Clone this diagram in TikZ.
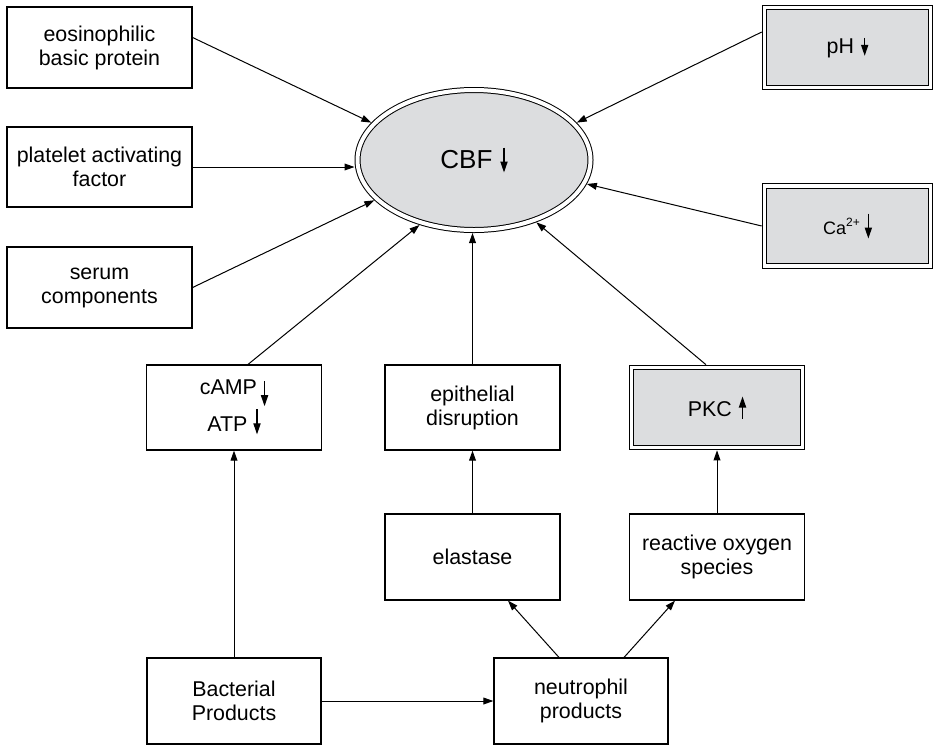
\documentclass[tikz,border=0pt]{standalone}
\usepackage{fontspec}
\setmainfont{Liberation Sans}
\usetikzlibrary{arrows.meta,shapes}

\definecolor{cellgray}{RGB}{220,221,223}

% small arrows that stand after the labels
\newsavebox{\dnbox}
\newsavebox{\dnlongbox}
\newsavebox{\upbox}
\sbox{\dnbox}{\tikz\draw[line width=0.6pt,-{Triangle[length=5.5pt,width=3.6pt]}] (0,9pt) -- (0,0);}
\sbox{\dnlongbox}{\tikz\draw[line width=0.6pt,-{Triangle[length=5.5pt,width=3.6pt]}] (0,12.5pt) -- (0,0);}
\sbox{\upbox}{\tikz\draw[line width=0.6pt,-{Triangle[length=5.5pt,width=3.6pt]}] (0,0) -- (0,11pt);}

\begin{document}
\begin{tikzpicture}[x=0.5pt,y=-0.5pt,
    box/.style={draw, line width=0.6pt, align=center, inner sep=1pt,
      minimum width=87.5pt, minimum height=42.5pt,
      font=\fontsize{10.7}{12}\selectfont},
    dbox/.style={box, fill=cellgray, line width=0.5pt, double=white,
      double distance=1.8pt, outer sep=1.4pt},
    link/.style={line width=0.5pt, -{Triangle[length=5pt,width=3.4pt]}}]
    \useasboundingbox (0,0) rectangle (935,745);
    % left column
    \node[box, minimum width=92.5pt, minimum height=40.5pt] (eos) at (99.5,47.5) {eosinophilic\\basic protein};
    \node[box, minimum width=92.5pt, minimum height=40pt] (paf) at (99.5,167) {platelet activating\\factor};
    \node[box, minimum width=92.5pt, minimum height=40.5pt] (serum) at (99.5,287.5) {serum\\components};
    % centre
    \node[ellipse, draw, fill=cellgray, line width=0.5pt, double=white, double distance=2pt,
      minimum width=116.5pt, minimum height=70pt, inner sep=0pt, outer sep=1.5pt,
      font=\fontsize{13}{15}\selectfont] (cbf) at (474,160)
      {CBF\hspace{4pt}\raisebox{-2.5pt}{\usebox{\dnlongbox}}};
    % right column
    \node[dbox, minimum width=83pt, minimum height=40pt] (ph) at (847.5,47.5)
      {pH\hspace{3.5pt}\raisebox{-1.5pt}{\usebox{\dnbox}}};
    \node[dbox, minimum width=83pt, minimum height=40pt, font=\fontsize{9}{11}\selectfont] (ca) at (847.5,226)
      {Ca\textsuperscript{2+}\hspace{2pt}\raisebox{-2.5pt}{\usebox{\dnlongbox}}};
    % middle row
    \node[box] (camp) at (234,407.5)
      {cAMP\hspace{2pt}\raisebox{-6pt}{\usebox{\dnlongbox}}\\ATP\hspace{3pt}\raisebox{-1.5pt}{\usebox{\dnlongbox}}};
    \node[box] (epi) at (472.5,407.5) {epithelial\\disruption};
    \node[dbox, minimum width=85.5pt, minimum height=40pt] (pkc) at (717,407.5)
      {PKC\hspace{3.5pt}\raisebox{-1.5pt}{\usebox{\upbox}}};
    % lower rows
    \node[box, minimum height=43pt] (ela) at (472.5,557) {elastase};
    \node[box, minimum height=43pt] (ros) at (717,557) {reactive oxygen\\species};
    \node[box, minimum width=87pt, minimum height=43pt] (bact) at (234,701) {Bacterial\\Products};
    \node[box, minimum width=87pt, minimum height=43pt] (neut) at (581,701) {neutrophil\\products};
    % links
    \draw[link] ([yshift=5pt]eos.east) -- (cbf.160);
    \draw[link] (paf.east) -- (paf.east -| cbf.west);
    \draw[link] (serum.east) -- (cbf.202);
    \draw[link] ([yshift=7.75pt]ph.west) -- (cbf.20);
    \draw[link] (ca.west) -- (cbf.-12);
    \draw[link] ([xshift=7pt]camp.north) -- (cbf.230);
    \draw[link] (epi.north) -- (epi.north |- cbf.south);
    \draw[link] ([xshift=-5.5pt]pkc.north) -- (cbf.-45);
    \draw[link] (ela) -- (epi);
    \draw[link] (ros) -- (pkc);
    \draw[link] (bact) -- (camp);
    \draw[link] (bact) -- (neut);
    \draw[link] ([xshift=-11pt]neut.north) -- ([xshift=17.75pt]ela.south);
    \draw[link] ([xshift=21.5pt]neut.north) -- ([xshift=-21pt]ros.south);
\end{tikzpicture}
\end{document}
